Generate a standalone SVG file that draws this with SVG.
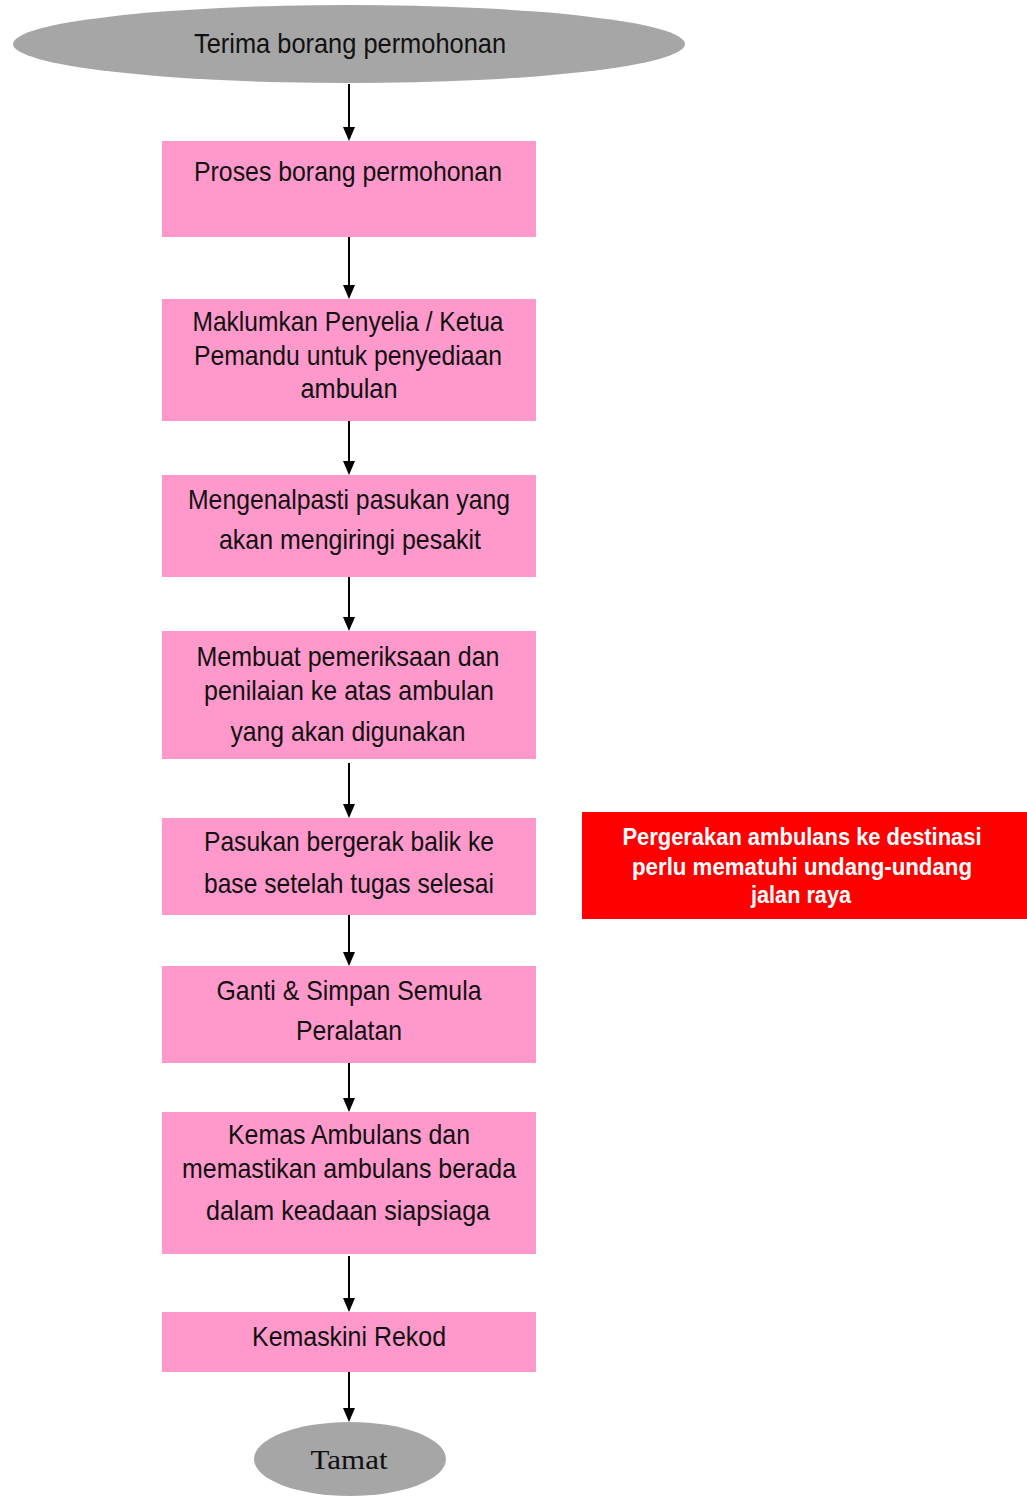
<svg xmlns="http://www.w3.org/2000/svg" width="1027" height="1496" viewBox="0 0 1027 1496">
<defs>
<marker id="ah" markerWidth="12" markerHeight="14" refX="6" refY="14" orient="auto-start-reverse" markerUnits="userSpaceOnUse" viewBox="0 0 12 14">
<path d="M0,0 L12,0 L6,14 Z" fill="#000" transform="rotate(0)"/>
</marker>
<style>
.t{font-family:"Liberation Sans",Arial,sans-serif;font-size:28px;fill:#111;text-anchor:middle}
.box{fill:#ff99cc}
.ell{fill:#a6a6a6}
.c{stroke:#000;stroke-width:2;fill:none}
.r{font-family:"Liberation Sans",Arial,sans-serif;font-size:23px;font-weight:bold;fill:#fff;text-anchor:middle}
.s{font-family:"Liberation Serif","Times New Roman",serif;font-size:27px;fill:#111;text-anchor:middle}
</style>
</defs>
<rect width="1027" height="1496" fill="#fff"/>
<g id="connectors">
<path class="c" d="M349,84 V127"/><path d="M343,127 L355,127 L349,141 Z"/>
<path class="c" d="M349,237 V285"/><path d="M343,285 L355,285 L349,299 Z"/>
<path class="c" d="M349,421 V461"/><path d="M343,461 L355,461 L349,475 Z"/>
<path class="c" d="M349,577 V617"/><path d="M343,617 L355,617 L349,631 Z"/>
<path class="c" d="M349,763 V804"/><path d="M343,804 L355,804 L349,818 Z"/>
<path class="c" d="M349,915 V952"/><path d="M343,952 L355,952 L349,966 Z"/>
<path class="c" d="M349,1063 V1098"/><path d="M343,1098 L355,1098 L349,1112 Z"/>
<path class="c" d="M349,1256 V1298"/><path d="M343,1298 L355,1298 L349,1312 Z"/>
<path class="c" d="M349,1372 V1408"/><path d="M343,1408 L355,1408 L349,1422 Z"/>
</g>
<g id="n0"><ellipse class="ell" cx="349" cy="44" rx="336" ry="39"/><text class="t" x="350" y="53" textLength="312" lengthAdjust="spacingAndGlyphs">Terima borang permohonan</text></g>
<g id="n1"><rect class="box" x="162" y="141" width="374" height="96"/><text class="t" x="348" y="181" textLength="308" lengthAdjust="spacingAndGlyphs">Proses borang permohonan</text></g>
<g id="n2"><rect class="box" x="162" y="299" width="374" height="122"/>
<text class="t" x="348" y="331" textLength="311" lengthAdjust="spacingAndGlyphs">Maklumkan Penyelia / Ketua</text>
<text class="t" x="348" y="365" textLength="308" lengthAdjust="spacingAndGlyphs">Pemandu untuk penyediaan</text>
<text class="t" x="349" y="398" textLength="97" lengthAdjust="spacingAndGlyphs">ambulan</text></g>
<g id="n3"><rect class="box" x="162" y="475" width="374" height="102"/>
<text class="t" x="349" y="509" textLength="322" lengthAdjust="spacingAndGlyphs">Mengenalpasti pasukan yang</text>
<text class="t" x="350" y="549" textLength="262" lengthAdjust="spacingAndGlyphs">akan mengiringi pesakit</text></g>
<g id="n4"><rect class="box" x="162" y="631" width="374" height="128"/>
<text class="t" x="348" y="666" textLength="303" lengthAdjust="spacingAndGlyphs">Membuat pemeriksaan dan</text>
<text class="t" x="349" y="700" textLength="290" lengthAdjust="spacingAndGlyphs">penilaian ke atas ambulan</text>
<text class="t" x="348" y="741" textLength="235" lengthAdjust="spacingAndGlyphs">yang akan digunakan</text></g>
<g id="n5"><rect class="box" x="162" y="818" width="374" height="97"/>
<text class="t" x="349" y="851" textLength="290" lengthAdjust="spacingAndGlyphs">Pasukan bergerak balik ke</text>
<text class="t" x="349" y="893" textLength="290" lengthAdjust="spacingAndGlyphs">base setelah tugas selesai</text></g>
<g id="n6"><rect class="box" x="162" y="966" width="374" height="97"/>
<text class="t" x="349" y="1000" textLength="265" lengthAdjust="spacingAndGlyphs">Ganti &amp; Simpan Semula</text>
<text class="t" x="349" y="1040" textLength="106" lengthAdjust="spacingAndGlyphs">Peralatan</text></g>
<g id="n7"><rect class="box" x="162" y="1112" width="374" height="142"/>
<text class="t" x="349" y="1144" textLength="242" lengthAdjust="spacingAndGlyphs">Kemas Ambulans dan</text>
<text class="t" x="349" y="1178" textLength="334" lengthAdjust="spacingAndGlyphs">memastikan ambulans berada</text>
<text class="t" x="348" y="1220" textLength="284" lengthAdjust="spacingAndGlyphs">dalam keadaan siapsiaga</text></g>
<g id="n8"><rect class="box" x="162" y="1312" width="374" height="60"/>
<text class="t" x="349" y="1346" textLength="194" lengthAdjust="spacingAndGlyphs">Kemaskini Rekod</text></g>
<g id="n9"><ellipse class="ell" cx="350" cy="1459" rx="96" ry="37"/>
<text class="s" x="349" y="1469" textLength="77" lengthAdjust="spacingAndGlyphs">Tamat</text></g>
<g id="note"><rect x="582" y="812" width="445" height="107" fill="#ff0000"/>
<text class="r" x="802" y="845" textLength="359" lengthAdjust="spacingAndGlyphs">Pergerakan ambulans ke destinasi</text>
<text class="r" x="802" y="875" textLength="340" lengthAdjust="spacingAndGlyphs">perlu mematuhi undang-undang</text>
<text class="r" x="801" y="903" textLength="100" lengthAdjust="spacingAndGlyphs">jalan raya</text></g>
</svg>
